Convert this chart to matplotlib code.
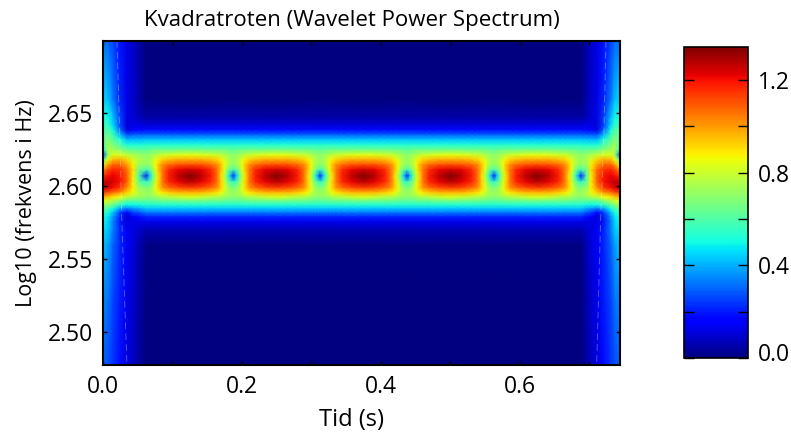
import matplotlib
matplotlib.use("Agg")
import matplotlib.pyplot as plt
from matplotlib.transforms import ScaledTranslation
import numpy as np

plt.rcParams["font.family"] = ["Open Sans", "DejaVu Sans"]

# Frekvens (log10), rader i spektrogrammet
log_f = [2.6996, 2.659, 2.6467, 2.642, 2.6385, 2.635, 2.6316, 2.628,
         2.6247, 2.6213, 2.6179, 2.6144, 2.611, 2.6069, 2.6027, 2.5986, 2.5952, 2.5924, 2.5897,
         2.587, 2.5842, 2.5815, 2.5787, 2.5753, 2.5698, 2.5595, 2.5217, 2.477]

# Over og under baandet (samme for alle vanlige kolonner)
over = [0, .005, .05, .1, .18, .3, .43, .53]
under = [.53, .42, .32, .22, .13, .06, .01, 0, 0]

# Midten av baandet, fra hullet (p0) til toppen (p8)
p0 = [.62, .7, .72, .7, .58, .2, .55, .68, .72, .7, .62]
p1 = [.63, .71, .74, .72, .62, .42, .6, .69, .73, .7, .62]
p2 = [.64, .73, .78, .77, .7, .62, .68, .75, .76, .71, .62]
p3 = [.64, .75, .83, .86, .83, .77, .81, .84, .8, .72, .63]
p4 = [.65, .78, .88, .94, .94, .9, .92, .92, .85, .75, .64]
p5 = [.65, .8, .92, 1.02, 1.05, 1.05, 1.05, 1.01, .89, .76, .64]
p6 = [.65, .81, .95, 1.07, 1.16, 1.18, 1.16, 1.06, .92, .77, .64]
p7 = [.66, .83, .98, 1.11, 1.22, 1.27, 1.22, 1.11, .95, .8, .65]
p8 = [.66, .84, .98, 1.12, 1.25, 1.34, 1.27, 1.13, .95, .82, .66]

# Kantkolonner, hele raden
e0 = [.33, .45, .52, .55, .58, .6, .62, .6, .5, .28, .6, .85, 1.02, 1.16, 1.24, 1.25, 1.12, .97, .85, .72, .62, .56, .52, .5, .47, .42, .35, .3]
e1 = [.3, .42, .5, .55, .6, .65, .68, .72, .75, .72, .85, 1.0, 1.12, 1.2, 1.27, 1.24, 1.1, .95, .8, .7, .58, .52, .47, .45, .43, .38, .32, .27]
e2 = [.26, .33, .42, .45, .5, .57, .62, .68, .74, .82, .96, 1.08, 1.17, 1.22, 1.24, 1.2, 1.05, .9, .76, .64, .5, .42, .37, .34, .34, .3, .26, .24]
e3 = [.19, .22, .26, .26, .3, .42, .52, .6, .7, .82, .98, 1.08, 1.15, 1.19, 1.2, 1.14, 1.0, .85, .7, .55, .38, .25, .22, .2, .22, .22, .2, .18]
e4 = [.12, .12, .12, .1, .12, .28, .42, .52, .64, .78, .92, 1.0, 1.06, 1.08, 1.08, 1.02, .92, .78, .62, .5, .32, .17, .1, .12, .14, .14, .13, .11]
e5 = [.09, .09, .1, .12, .17, .3, .42, .52, .63, .75, .82, .88, .9, .88, .88, .88, .85, .75, .62, .5, .36, .25, .16, .12, .12, .11, .09, .08]
e6 = [.05, .05, .07, .12, .17, .3, .42, .52, .62, .72, .76, .72, .65, .6, .63, .72, .76, .72, .62, .5, .38, .27, .18, .12, .09, .06, .05, .04]

# Tid for kolonnene
t_venstre = [0, .0072, .0144, .0245, .0345, .0432, .0518]
t_halv = [0, .0043, .0086, .013, .0173, .023, .0317, .046, .0625]
t_hull = [.0625, .1875, .3125, .4375, .5625, .6875]
t_hoyre = [.6957, .7022, .7108, .7209, .7309, .7367, .7439]

# Skillelinje (cone of influence)
coi_f = [2.6996, 2.6385, 2.5766, 2.477]
coi_v = [.020, .024, .027, .0345]
coi_h = [.7237, .7209, .716, .7103]

halv = [p0, p1, p2, p3, p4, p5, p6, p7, p8]
kolonner = []
tider = []
for t, e in zip(t_venstre, [e0, e1, e2, e3, e4, e5, e6]):
    tider.append(t)
    kolonner.append(e)
for i, hull in enumerate(t_hull):
    # ned fra toppen foran hullet
    if i > 0:
        for dt, p in zip(t_halv[::-1][:-1], halv[::-1][:-1]):
            tider.append(hull - dt)
            kolonner.append(over + p + under)
    tider.append(hull)
    kolonner.append(over + p0 + under)
    if i < len(t_hull) - 1:
        for dt, p in zip(t_halv[1:-1], halv[1:-1]):
            tider.append(hull + dt)
            kolonner.append(over + p + under)
for t, e in zip(t_hoyre, [e6, e5, e4, e3, e2, e1, e0]):
    tider.append(t)
    kolonner.append(e)

Z = np.array(kolonner).T

fig = plt.figure(figsize=(7.91, 4.33), dpi=100)
ax = fig.add_axes([103 / 791, 68 / 433, 517 / 791, 324 / 433])
bilde = ax.pcolormesh(tider, log_f, Z, cmap="jet", vmin=0, vmax=1.342, shading="gouraud", rasterized=True)

ax.plot(coi_v, coi_f, color="white", lw=0.6, dashes=(8, 5), alpha=0.35)
ax.plot(coi_h, coi_f, color="white", lw=0.6, dashes=(8, 5), alpha=0.35)

ax.set_xlim(0, .7439)
ax.set_ylim(2.477, 2.6996)
ax.set_xticks([0, .1, .2, .3, .4, .5, .6, .7])
ax.set_xticklabels(["0.0", "", "0.2", "", "0.4", "", "0.6", ""])
ax.set_yticks([2.50, 2.55, 2.60, 2.65])
ax.set_yticklabels(["2.50", "2.55", "2.60", "2.65"])
ax.tick_params(direction="in", top=True, right=True, length=3, width=1, labelsize=16.5, pad=7)
for s in ax.spines.values():
    s.set_linewidth(1.5)

ax.set_title("Kvadratroten (Wavelet Power Spectrum)", fontsize=16, pad=11, x=.4816)
ax.set_xlabel("Tid (s)", fontsize=17, labelpad=7, x=.4816)
ax.set_ylabel("Log10 (frekvens i Hz)", fontsize=15.5, labelpad=8)

cax = fig.add_axes([684 / 791, 75 / 433, 64 / 791, 311 / 433])
cb = fig.colorbar(bilde, cax=cax)
cb.set_ticks([0, .2, .4, .6, .8, 1.0, 1.2])
cb.set_ticklabels(["0.0", "", "0.4", "", "0.8", "", "1.2"])
cb.ax.tick_params(direction="in", left=True, right=True, length=7.2, width=1, labelsize=16.5, pad=7)
cb.outline.set_linewidth(1.2)
# 0.0 staar litt over streken
forste = cb.ax.get_yticklabels()[0]
forste.set_transform(forste.get_transform() + ScaledTranslation(0, 4 / 72, fig.dpi_scale_trans))

fig.savefig("out.png", dpi=100)
